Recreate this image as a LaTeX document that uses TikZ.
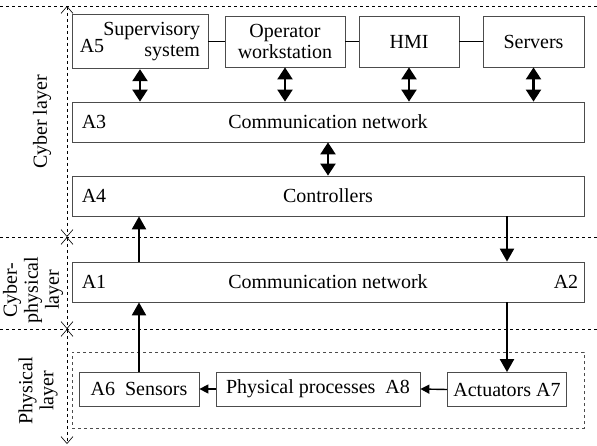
\documentclass[tikz,border=0pt]{standalone}
\usepackage{fontspec}
\setmainfont{Liberation Serif}
\usetikzlibrary{arrows.meta, positioning, calc}
\tikzstyle{arrow} = [line width=2.2pt, -{Triangle[length=13pt,width=14pt]}]
\tikzstyle{twoway} = [line width=2.2pt, {Triangle[length=12pt,width=15pt]}-{Triangle[length=12pt,width=15pt]}]
\tikzstyle{shortarrow} = [line width=1.4pt, -{Triangle[length=9pt,width=9pt]}]

\begin{document}
\begin{tikzpicture}[x=1pt, y=-1pt, font=\fontsize{20}{21}\selectfont,
    box/.style={draw=black!70, line width=0.8pt, minimum height=51pt, inner sep=2pt, align=center},
    wide/.style={draw=black!70, line width=0.8pt, minimum width=512pt, minimum height=40pt},
    small/.style={draw=black!70, line width=0.8pt, minimum height=34pt},
    tag/.style={inner sep=0pt},
    layerline/.style={dashed, line width=0.6pt},
    axis/.style={dashed, line width=0.6pt, {Straight Barb[length=7pt,width=12pt]}-{Straight Barb[length=7pt,width=12pt]}}]
    \useasboundingbox (0,0) rectangle (597,446);

    % cyber layer
    \node[box, minimum width=136pt, text width=120pt, inner sep=8pt, align=right] (sup) at (140,41.5) {Supervisory\\system};
    \node[tag, anchor=west] (a5) at ($(sup.west)+(8,4)$) {A5};
    \node[box, minimum width=120pt] (op) at (285,41.5) {Operator\\workstation};
    \node[box, minimum width=100pt] (hmi) at (409,41.5) {HMI};
    \node[box, minimum width=101pt] (srv) at (533.5,41.5) {Servers};
    \node[wide] (net3) at (328,122) {Communication network};
    \node[tag, anchor=west] (a3) at ($(net3.west)+(10,0)$) {A3};
    \node[wide] (ctrl) at (328,196) {Controllers};
    \node[tag, anchor=west] (a4) at ($(ctrl.west)+(10,0)$) {A4};

    % cyber-physical layer
    \node[wide] (net1) at (328,282) {Communication network};
    \node[tag, anchor=west] (a1) at ($(net1.west)+(10,0)$) {A1};
    \node[tag, anchor=east] (a2) at ($(net1.east)+(-6,0)$) {A2};

    % physical layer
    \node[draw=black!70, dashed, line width=0.6pt, minimum width=512pt, minimum height=76pt] (physbox) at (328,390) {};
    \node[small, minimum width=120pt] (sens) at (139,389) {A6~~Sensors};
    \node[small, minimum width=204pt] (proc) at (318,389) {Physical processes~~A8};
    \node[small, minimum width=119pt] (act) at (507,389.5) {Actuators A7};

    % layer labels
    \node[rotate=90] (cyberlbl) at (42,122) {Cyber layer};
    \node[rotate=90, align=center] (cplbl) at (33,290) {Cyber-\\physical\\layer};
    \node[rotate=90, align=center] (phlbl) at (38,391) {Physical\\layer};

    % layer borders
    \coordinate (axtop) at (67,6);
    \coordinate (axcp) at (67,237);
    \coordinate (axph) at (67,329);
    \coordinate (axbot) at (67,444);
    \draw[layerline] (0,6) -- (597,6);
    \draw[layerline] (0,237) -- (597,237);
    \draw[layerline] (0,329) -- (597,329);
    \draw[axis] (axtop) -- (axcp);
    \draw[axis] (axcp) -- (axph);
    \draw[axis] (axph) -- (axbot);

    % links
    \draw[line width=0.8pt] (sup.east) -- (op.west);
    \draw[line width=0.8pt] (op.east) -- (hmi.west);
    \draw[line width=0.8pt] (hmi.east) -- (srv.west);
    \draw[twoway] (sup.south) -- (sup.south |- net3.north);
    \draw[twoway] (op.south) -- (op.south |- net3.north);
    \draw[twoway] (hmi.south) -- (hmi.south |- net3.north);
    \draw[twoway] (srv.south) -- (srv.south |- net3.north);
    \draw[twoway] (net3.south) -- (ctrl.north);
    \draw[arrow] (net1.north -| sens.north) -- (ctrl.south -| sens.north);
    \draw[arrow] (sens.north) -- (sens.north |- net1.south);
    \draw[arrow] (ctrl.south -| act.north) -- (net1.north -| act.north);
    \draw[arrow] (net1.south -| act.north) -- (act.north);
    \draw[shortarrow] (act.west) -- (proc.east);
    \draw[shortarrow] (proc.west) -- (sens.east);
\end{tikzpicture}
\end{document}
